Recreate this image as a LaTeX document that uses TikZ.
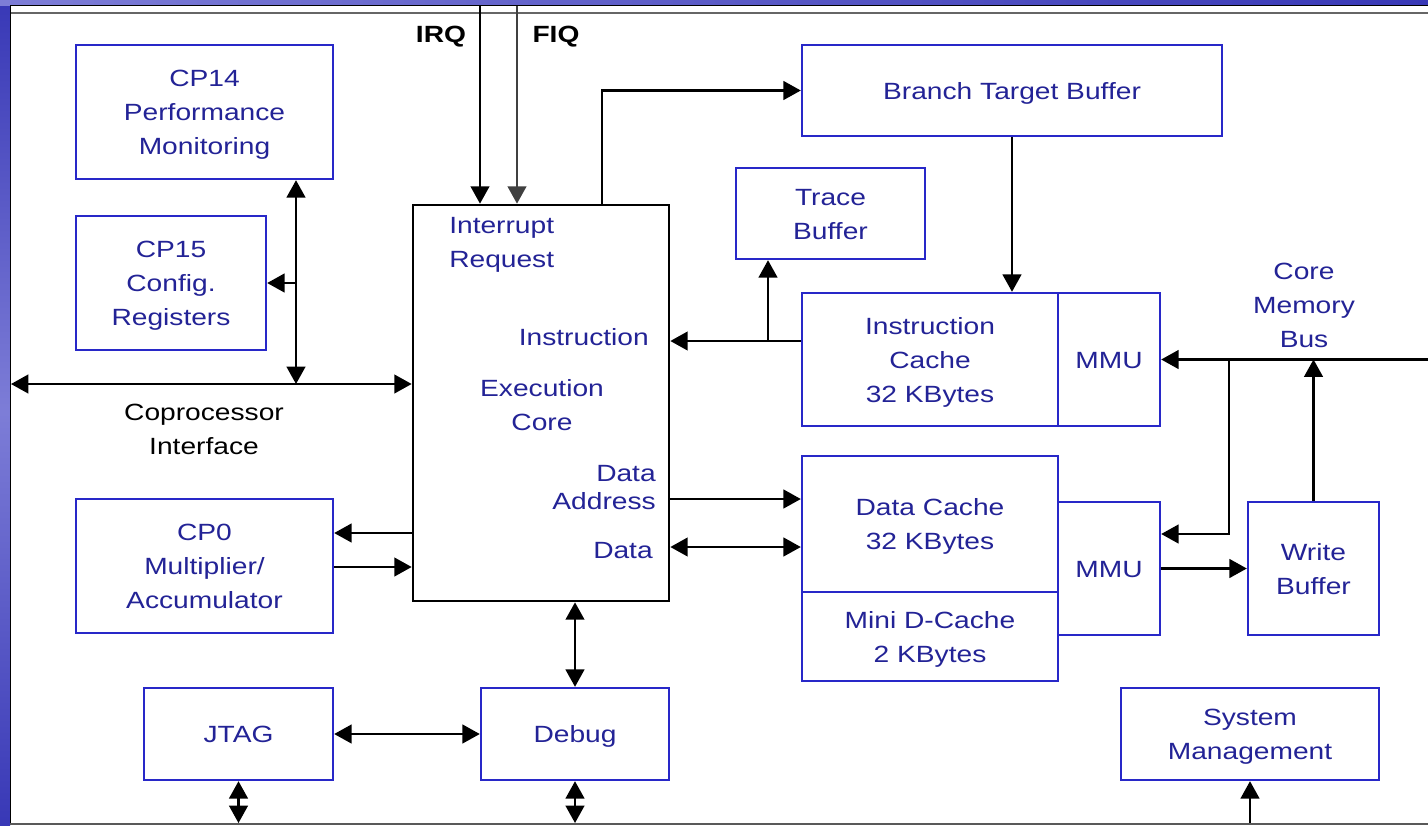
\documentclass[tikz,border=0pt]{standalone}
\usepackage{fontspec}
\setmainfont{Liberation Sans}[FakeStretch=1.2]
\usetikzlibrary{arrows.meta,calc}
\definecolor{frameblue}{RGB}{56,56,182}
\definecolor{framelight}{RGB}{125,125,215}
\definecolor{boxblue}{RGB}{40,40,200}
\definecolor{txtblue}{RGB}{35,35,150}
\newcommand{\bt}[1]{\raisebox{-1.5pt}[\height][\depth]{\begin{tabular}{@{}c@{}}#1\end{tabular}}}
\tikzset{
  every node/.style={font=\fontsize{17.6}{25.5}\selectfont},
  box/.style 2 args={draw=boxblue, line width=1.8pt, fill=white, text=txtblue,
    align=center, inner sep=0pt, minimum width=#1*0.75pt, minimum height=#2*0.75pt},
  corebox/.style 2 args={draw=black, line width=2pt, fill=white,
    inner sep=0pt, minimum width=#1*0.75pt, minimum height=#2*0.75pt},
  lbl/.style={inner sep=0pt, text=txtblue},
  blbl/.style={inner sep=0pt, text=black},
  arr/.style={line width=1.6pt, -{Triangle[length=13pt,width=14pt]}},
  darr/.style={line width=1.6pt, {Triangle[length=13pt,width=14pt]}-{Triangle[length=13pt,width=14pt]}}
}
\begin{document}
\begin{tikzpicture}[x=0.75pt,y=-0.75pt]
\useasboundingbox (0,0) rectangle (1428,825);
% frame
\fill[frameblue] (0,0) rectangle (1428,825);
\shade[top color=frameblue, bottom color=frameblue, middle color=framelight] (0,0) rectangle (10,825);
\shade[left color=framelight, right color=frameblue] (0,0) rectangle (1428,5);
\fill[white] (10,5) rectangle (1428,823);
\draw[black, line width=1.2pt] (10,5.5) -- (1428,5.5);
\draw[black!60, line width=0.8pt] (10,13) -- (1428,13);
\draw[black, line width=1.2pt] (10.5,5) -- (10.5,823);
\draw[black!65, line width=1.5pt] (10,823.5) -- (1428,823.5);

% boxes
\node[box={257}{134}] (cp14) at (204.5,112) {\bt{CP14\\Performance\\Monitoring}};
\node[box={190}{134}] (cp15) at (171,283) {\bt{CP15\\Config.\\Registers}};
\node[box={257}{134}] (cp0) at (204.5,566) {\bt{CP0\\Multiplier/\\Accumulator}};
\node[corebox={256}{396}] (core) at (541,403) {};
\node[box={420}{91}] (btb) at (1012,90.5) {\bt{Branch Target Buffer}};
\node[box={189}{91}] (trace) at (830.5,213.5) {\bt{Trace\\Buffer}};
\node[box={256}{133}] (icache) at (930,359.5) {\bt{Instruction\\Cache\\32 KBytes}};
\node[box={102}{133}] (immu) at (1109,359.5) {\bt{MMU}};
\node[box={256}{136}] (dcache) at (930,524) {\bt{Data Cache\\32 KBytes}};
\node[box={256}{89}] (minid) at (930,636.5) {\bt{Mini D-Cache\\2 KBytes}};
\node[box={102}{133}] (dmmu) at (1109,568.5) {\bt{MMU}};
\node[box={131}{133}] (wbuf) at (1313.5,568.5) {\bt{Write\\Buffer}};
\node[box={258}{92}] (sysm) at (1250,734) {\bt{System\\Management}};
\node[box={189}{92}] (jtag) at (238.5,734) {\bt{JTAG}};
\node[box={188}{92}] (debug) at (575,734) {\bt{Debug}};

% labels inside the core
\node[lbl, anchor=west, align=left] (irqlbl) at (449,245) {Interrupt\\Request};
\node[lbl, anchor=east] (inslbl) at (649,337) {Instruction};
\node[lbl, align=center] (exlbl) at (542,405) {Execution\\Core};
\node[lbl, anchor=east, align=right, font=\fontsize{17.6}{21}\selectfont] (dalbl) at (656,488) {Data\\Address};
\node[lbl, anchor=east] (dlbl) at (653,551) {Data};

% free labels
\node[blbl, font=\fontsize{17.6}{25.5}\selectfont\bfseries] (irqt) at (441,37) {IRQ};
\node[blbl, font=\fontsize{17.6}{25.5}\selectfont\bfseries] (fiqt) at (556,37) {FIQ};
\node[blbl, align=center] (cpif) at (204,429) {Coprocessor\\Interface};
\node[lbl, align=center] (cmb) at (1304,305) {Core\\Memory\\Bus};

% helper coordinates
\coordinate (bot) at (0,823);
\coordinate (irq) at (480,5.5);
\coordinate (fiq) at (517,5.5);
\coordinate (bx) at (602,90.5);
\coordinate (yi) at (0,341);
\coordinate (tj) at (768,341);
\coordinate (ya) at (0,499);
\coordinate (yd) at (0,547);
\coordinate (y1) at (0,533);
\coordinate (y2) at (0,567);
\coordinate (cbl) at (11,384);
\coordinate (cv) at (296,384);
\coordinate (busr) at (1428,359.5);
\coordinate (bj) at (1229,359.5);
\coordinate (ydm) at (0,534);

% connectors
\draw[arr] (irq) -- (irq |- core.north);
\draw[arr, black!75] (fiq) -- (fiq |- core.north);
\draw[arr] (bx |- core.north) -- (bx) -- (btb.west);
\draw[arr] (btb.south) -- (btb.south |- icache.north);
\draw[arr] (icache.west |- yi) -- (core.east |- yi);
\draw[arr] (tj) -- (tj |- trace.south);
\draw[arr] (core.east |- ya) -- (dcache.west |- ya);
\draw[darr] (core.east |- yd) -- (dcache.west |- yd);
\draw[arr] (core.west |- y1) -- (cp0.east |- y1);
\draw[arr] (cp0.east |- y2) -- (core.west |- y2);
\draw[darr] (cbl) -- (core.west |- cbl);
\draw[darr] (cv |- cp14.south) -- (cv);
\draw[arr] (cv |- cp15.east) -- (cp15.east);
\draw[darr] (debug.north |- core.south) -- (debug.north);
\draw[darr] (jtag.east) -- (debug.west);
\draw[darr] (jtag.south) -- (jtag.south |- bot);
\draw[darr] (debug.south) -- (debug.south |- bot);
\draw[arr] (sysm.south |- bot) -- (sysm.south);
\draw[arr] (busr) -- (immu.east);
\draw[arr] (bj) -- (bj |- ydm) -- (dmmu.east |- ydm);
\draw[arr] (wbuf.north) -- (wbuf.north |- busr);
\draw[arr] (dmmu.east) -- (wbuf.west);
\end{tikzpicture}
\end{document}
